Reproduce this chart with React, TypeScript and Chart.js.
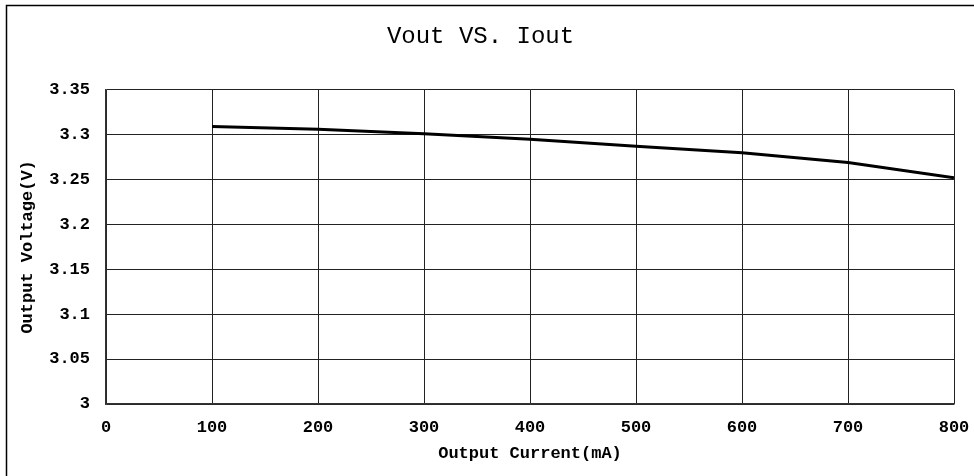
import React, { useEffect, useRef } from "react";
import { Chart, registerables } from "chart.js";

Chart.register(...registerables);

const currentMA = [100, 200, 300, 400, 500, 600, 700, 800];
const voltageV = [3.309, 3.306, 3.301, 3.295, 3.287, 3.28, 3.269, 3.252];
const xTickValues = [0, 100, 200, 300, 400, 500, 600, 700, 800];
const yTickLabels = ["3", "3.05", "3.1", "3.15", "3.2", "3.25", "3.3", "3.35"];
const yTickValues = [3, 3.05, 3.1, 3.15, 3.2, 3.25, 3.3, 3.35];

const FONT = "'Liberation Mono', 'DejaVu Sans Mono', monospace";

const frame = {
  id: "frame",
  beforeDraw(chart: any) {
    const ctx = chart.ctx;
    ctx.save();
    ctx.fillStyle = "#ffffff";
    ctx.fillRect(0, 0, chart.width, chart.height);
    ctx.strokeStyle = "#000000";
    ctx.lineWidth = 1.5;
    ctx.strokeRect(6.5, 5.5, 2000, 2000);
    ctx.restore();
  },
};

export default function App() {
  const ref = useRef<HTMLCanvasElement | null>(null);
  useEffect(() => {
    if (!ref.current) return;
    const chart = new Chart(ref.current, {
      type: "line",
      data: {
        datasets: [
          {
            data: currentMA.map((x, i) => ({ x, y: voltageV[i] })),
            borderColor: "#000000",
            borderWidth: 3,
            pointRadius: 0,
            tension: 0,
            fill: false,
          },
        ],
      },
      options: {
        animation: false,
        responsive: false,
        devicePixelRatio: 1,
        layout: { padding: { left: 7, right: 20, top: 0, bottom: 0 } },
        plugins: {
          legend: { display: false },
          tooltip: { enabled: false },
          title: {
            display: true,
            text: "Vout VS. Iout",
            color: "#000",
            font: { family: FONT, size: 24, weight: "normal" },
            padding: { top: 22, bottom: 39 },
          },
        },
        scales: {
          x: {
            type: "linear",
            min: 0,
            max: 800,
            afterBuildTicks: (scale: any) => {
              scale.ticks = xTickValues.map((v) => ({ value: v }));
            },
            afterFit: (scale: any) => {
              scale.height = 72;
              scale.paddingRight = 0;
              scale.paddingLeft = 0;
            },
            grid: { color: "#222", lineWidth: 1, drawTicks: false },
            border: { color: "#333", width: 1.5 },
            ticks: {
              color: "#000",
              padding: 14,
              maxRotation: 0,
              font: { family: FONT, size: 17, weight: "bold" },
            },
            title: {
              display: true,
              text: "Output Current(mA)",
              color: "#000",
              font: { family: FONT, size: 17, weight: "bold" },
              padding: { top: 0, bottom: 12 },
            },
          },
          y: {
            type: "linear",
            min: 3,
            max: 3.35,
            afterBuildTicks: (scale: any) => {
              scale.ticks = yTickValues.map((v) => ({ value: v }));
            },
            afterFit: (scale: any) => {
              scale.width = 99;
            },
            grid: { color: "#222", lineWidth: 1, drawTicks: false },
            border: { color: "#333", width: 1.5 },
            ticks: {
              color: "#000",
              padding: 16,
              font: { family: FONT, size: 17, weight: "bold" },
              callback: (v: any) => {
                const i = yTickValues.findIndex((t) => Math.abs(t - Number(v)) < 1e-6);
                return i >= 0 ? yTickLabels[i] : "";
              },
            },
            title: {
              display: true,
              text: "Output Voltage(V)",
              color: "#000",
              font: { family: FONT, size: 17, weight: "bold" },
              padding: { top: 11, bottom: 0 },
            },
          },
        },
      },
      plugins: [frame],
    });
    return () => chart.destroy();
  }, []);
  return (
    <div style={{ position: "absolute", left: 0, top: 0, width: 974, height: 476 }}>
      <canvas ref={ref} width={974} height={476} style={{ display: "block" }} />
    </div>
  );
}
